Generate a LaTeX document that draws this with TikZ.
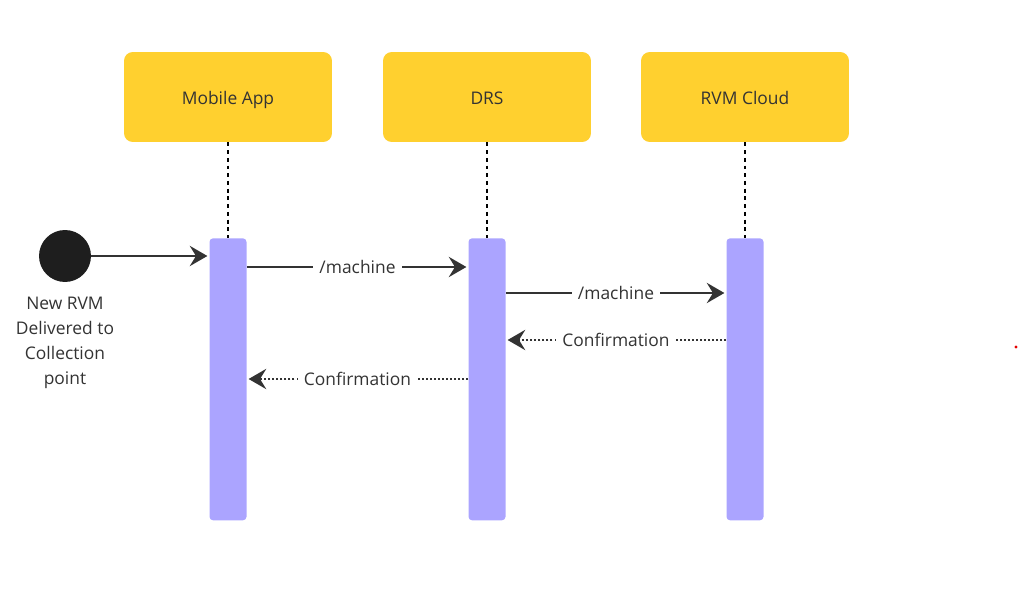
\documentclass[tikz,border=0pt]{standalone}
\usepackage{fontspec}
\setmainfont{Open Sans}
\usetikzlibrary{arrows.meta,positioning}
\definecolor{boxyellow}{HTML}{FFD02F}
\definecolor{barviolet}{HTML}{ABA4FF}
\definecolor{inkgrey}{HTML}{333333}
\definecolor{startblack}{HTML}{1E1E1E}

\begin{document}
\begin{tikzpicture}[x=0.02cm, y=-0.02cm,
   every node/.style={font=\fontsize{9.9}{14.2}\selectfont, text=inkgrey},
   actor/.style={fill=boxyellow, rounded corners=5pt, minimum width=4.16cm, minimum height=1.8cm, text height=9pt, text depth=0pt},
   bar/.style={fill=barviolet, rounded corners=2pt, minimum width=0.74cm, minimum height=5.64cm, inner sep=0pt},
   lifeline/.style={draw=black, line width=0.6pt, dash pattern=on 2.2pt off 2.2pt},
   msg/.style={draw=inkgrey, line width=1.4pt, -{Stealth[length=10pt,width=11.5pt,inset=3.5pt]}, shorten >=1pt},
   reply/.style={msg, dash pattern=on 1.1pt off 1.2pt},
   lbl/.style={fill=white, inner xsep=3.5pt, inner ysep=1pt}]

\useasboundingbox (0,0) rectangle (1020,590);

% participants
\node[actor] (app)   at (228,97) {Mobile App};
\node[actor] (drs)   at (487,97) {DRS};
\node[actor] (cloud) at (745,97) {RVM Cloud};

% activation bars
\node[bar, anchor=north] (appbar)   at (228,238) {};
\node[bar, anchor=north] (drsbar)   at (487,238) {};
\node[bar, anchor=north] (cloudbar) at (745,238) {};

\draw[lifeline] (app.south)   -- (appbar.north);
\draw[lifeline] (drs.south)   -- (drsbar.north);
\draw[lifeline] (cloud.south) -- (cloudbar.north);

% start point
\node[circle, fill=startblack, minimum size=1.04cm, inner sep=0pt,
      label={[align=center, label distance=5pt]below:New RVM\\Delivered to\\Collection\\point}] (start) at (65,256) {};

\draw[msg] (start) -- (appbar.west |- start);

% messages
\draw[msg] (appbar.east |- 0,267) -- node[lbl] {/machine} (drsbar.west |- 0,267);
\draw[msg] (drsbar.east |- 0,293) -- node[lbl] {/machine} (cloudbar.west |- 0,293);
\draw[reply] (cloudbar.west |- 0,340) -- node[lbl] {Confirmation} (drsbar.east |- 0,340);
\draw[reply] (drsbar.west |- 0,379) -- node[lbl] {Confirmation} (appbar.east |- 0,379);

\fill[red!90!black] (1016,347) circle (1.6);

\end{tikzpicture}
\end{document}
